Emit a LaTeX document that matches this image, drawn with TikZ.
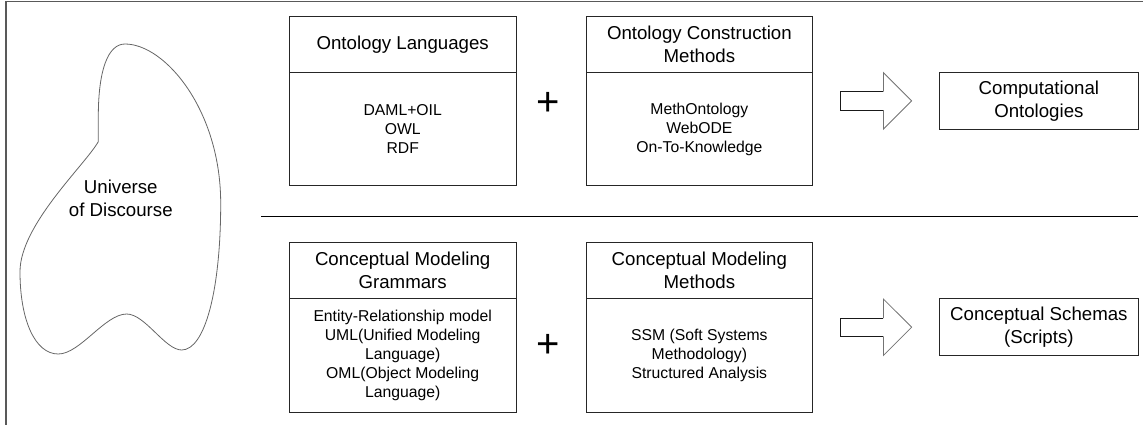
\documentclass[tikz,border=0pt]{standalone}
\usepackage{fontspec}
\setmainfont{Liberation Sans}
\usetikzlibrary{positioning,calc}

\begin{document}
\begin{tikzpicture}[x=0.75pt,y=-0.75pt]
  \tikzset{Head/.style={draw=black!85,line width=0.75pt,outer sep=0pt,inner sep=0pt,
                        minimum width=170pt,minimum height=42.25pt,align=center,
                        font=\fontsize{14}{17}\selectfont},
           Body/.style={Head,minimum height=85pt,font=\fontsize{11.8}{14.2}\selectfont},
           Result/.style={Head,minimum width=149.25pt,minimum height=42.5pt},
           Plus/.style={inner sep=0pt,font=\fontsize{30}{36}\selectfont},
           Shaft/.style={draw=black!90,line width=0.6pt},
           Tip/.style={draw=black!55,line width=0.6pt},
           Blob/.style={draw=black!60,line width=0.6pt},
           Frame/.style={draw=black!65,line width=1.1pt},
           Rule/.style={draw=black,line width=0.75pt}}
  \useasboundingbox (0,0) rectangle (1143,425);
  \draw[Frame] (6,425) -- (6,1.5) -- (1143,1.5);
  \draw[Blob] (125,44) .. controls (108,44) and (98.3,70) .. (98.3,116.7) -- (98.3,141.7)
    .. controls (85,165) and (20,225) .. (20,271.7)
    .. controls (20,320) and (35,354) .. (58.3,354)
    .. controls (80,354) and (105,314) .. (126.7,314)
    .. controls (145,314) and (165,350) .. (181.7,350)
    .. controls (205,350) and (220.7,290) .. (220.7,203.3)
    .. controls (220.7,110) and (165,44) .. (125,44) -- cycle;
  \node[align=center,font=\fontsize{14}{17}\selectfont] (U) at (120.8,198.3) {Universe\\of Discourse};
  \node[Head] (OL) at (402.7,44.2) {Ontology Languages};
  \node[Body,below=0pt of OL] (OLb) {DAML+OIL\\OWL\\RDF};
  \node[Head,right=52.5pt of OL] (OC) {Ontology Construction\\Methods};
  \node[Body,below=0pt of OC] (OCb) {MethOntology\\WebODE\\On-To-Knowledge};
  \node[Head,below=42.5pt of OLb] (CG) {Conceptual Modeling\\Grammars};
  \node[Body,below=0pt of CG] (CGb) {Entity-Relationship model\\UML(Unified Modeling\\Language)\\OML(Object Modeling\\Language)};
  \node[Head,right=52.5pt of CG] (CM) {Conceptual Modeling\\Methods};
  \node[Body,below=0pt of CM] (CMb) {SSM (Soft Systems\\Methodology)\\Structured Analysis};
  \node[Plus] (P1) at (547.8,104) {+};
  \node[Plus] (P2) at (547.8,346) {+};
  \coordinate (A1) at ($(OC.north east)!.5!(OCb.south east)$);
  \coordinate (A2) at ($(CM.north east)!.5!(CMb.south east)$);
  \node[Result,right=95pt of A1] (CO) {Computational\\Ontologies};
  \node[Result,right=95pt of A2] (CS) {Conceptual Schemas\\(Scripts)};
  \draw[Rule] (261,216) -- (CO.east |- 0,216);
  \draw[Shaft] ($(A1)+(70.7,-9.2)$) -| ($(A1)+(27.7,9.2)$) -- ++(43,0);
  \draw[Tip] ($(A1)+(70.7,-9.2)$) -- ++(0,-19) -- ($(CO.west)+(-27.7,0)$) -- ($(A1)+(70.7,28.2)$) -- ++(0,-19);
  \draw[Shaft] ($(A2)+(70.7,-9.2)$) -| ($(A2)+(27.7,9.2)$) -- ++(43,0);
  \draw[Tip] ($(A2)+(70.7,-9.2)$) -- ++(0,-19) -- ($(CS.west)+(-27.7,0)$) -- ($(A2)+(70.7,28.2)$) -- ++(0,-19);
\end{tikzpicture}
\end{document}
